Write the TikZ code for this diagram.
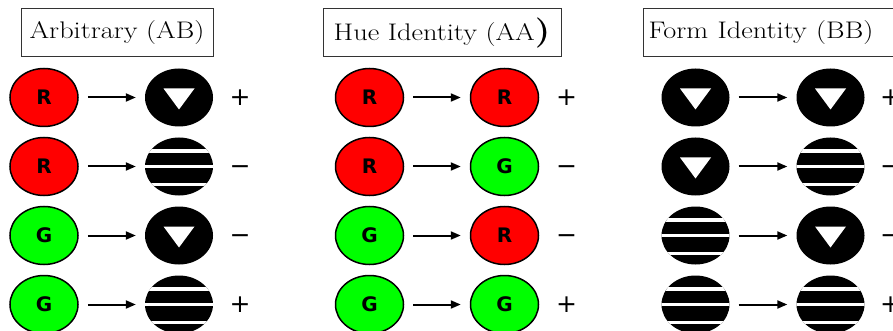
\documentclass[tikz,border=0pt]{standalone}
\usepackage{fontspec}
\newfontfamily\letterfont{DejaVu Sans}
\usetikzlibrary{shapes.geometric, positioning, arrows.meta}
\newcommand{\widetitle}[1]{\scalebox{1.18}[1]{#1}}

\begin{document}
\begin{tikzpicture}[x = 1pt, y = -1pt, node distance = 69pt and 135pt, on grid,
    title/.style = {draw = black!80, line width = 1pt, minimum height = 48pt,
      font = \fontsize{24}{24}\selectfont},
    blob/.style = {ellipse, minimum width = 68pt, minimum height = 58pt, inner sep = 0pt},
    huer/.style = {blob, draw, line width = 1.5pt, fill = red,
      font = \letterfont\bfseries\fontsize{20}{20}\selectfont},
    hueg/.style = {huer, fill = green},
    tri/.style = {blob, fill = black, path picture = {
        \fill[white] ([shift = {(-15.5pt, 9pt)}] path picture bounding box.center)
          -- ([shift = {(15.5pt, 9pt)}] path picture bounding box.center)
          -- ([shift = {(0pt, -12pt)}] path picture bounding box.center) -- cycle;}},
    bars/.style = {blob, fill = black, path picture = {
        \foreach \dy in {15.5, 0, -18}
          \draw[white, line width = 3.5pt]
            ([shift = {(-40pt, \dy pt)}] path picture bounding box.center) -- ++(80pt, 0pt);}},
    link/.style = {-{Triangle[length = 10pt, width = 8pt]}, line width = 2pt,
      shorten >= 9pt, shorten <= 9pt},
    sign/.style = {font = \letterfont\fontsize{25}{25}\selectfont, inner sep = 0pt,
      execute at begin node = \vphantom{+}}]
  \useasboundingbox (0, 0) rectangle (893, 331);

  % titles
  \node[title, minimum width = 192pt] (ab) at (117, 33) {\widetitle{Arbitrary (AB)}};
  \node[title, minimum width = 238pt] (aa) at (442, 33)
    {\widetitle{Hue Identity (AA{\fontsize{30}{30}\selectfont\bfseries)}}};
  \node[title, anchor = west, text width = 250pt, align = left, inner xsep = 5pt] (bb)
    at (643, 33) {\widetitle{Form Identity (BB)}};

  % arbitrary
  \node[huer] (l1) at (44, 97.5) {R};
  \node[huer] [below=of l1] (l2) {R};
  \node[hueg] [below=of l2] (l3) {G};
  \node[hueg] [below=of l3] (l4) {G};
  \node[tri]  [right=of l1] (r1) {};
  \node[bars] [right=of l2] (r2) {};
  \node[tri]  [right=of l3] (r3) {};
  \node[bars] [right=of l4] (r4) {};
  \node[sign] [right=61pt of r1] (p1) {+};
  \node[sign] [right=61pt of r2] (p2) {−};
  \node[sign] [right=61pt of r3] (p3) {−};
  \node[sign] [right=61pt of r4] (p4) {+};

  % hue identity
  \node[huer] (hl1) at (369.5, 97.5) {R};
  \node[huer] [below=of hl1] (hl2) {R};
  \node[hueg] [below=of hl2] (hl3) {G};
  \node[hueg] [below=of hl3] (hl4) {G};
  \node[huer] [right=of hl1] (hr1) {R};
  \node[hueg] [right=of hl2] (hr2) {G};
  \node[huer] [right=of hl3] (hr3) {R};
  \node[hueg] [right=of hl4] (hr4) {G};
  \node[sign] [right=62pt of hr1] (hp1) {+};
  \node[sign] [right=62pt of hr2] (hp2) {−};
  \node[sign] [right=62pt of hr3] (hp3) {−};
  \node[sign] [right=62pt of hr4] (hp4) {+};

  % form identity
  \node[tri]  (fl1) at (695.5, 97.5) {};
  \node[tri]  [below=of fl1] (fl2) {};
  \node[bars] [below=of fl2] (fl3) {};
  \node[bars] [below=of fl3] (fl4) {};
  \node[tri]  [right=of fl1] (fr1) {};
  \node[bars] [right=of fl2] (fr2) {};
  \node[tri]  [right=of fl3] (fr3) {};
  \node[bars] [right=of fl4] (fr4) {};
  \node[sign] [right=60pt of fr1] (fp1) {+};
  \node[sign] [right=60pt of fr2] (fp2) {−};
  \node[sign] [right=60pt of fr3] (fp3) {−};
  \node[sign] [right=60pt of fr4] (fp4) {+};

  \path[link]
    (l1) edge (r1)   (l2) edge (r2)   (l3) edge (r3)   (l4) edge (r4)
    (hl1) edge (hr1) (hl2) edge (hr2) (hl3) edge (hr3) (hl4) edge (hr4)
    (fl1) edge (fr1) (fl2) edge (fr2) (fl3) edge (fr3) (fl4) edge (fr4);
\end{tikzpicture}
\end{document}
